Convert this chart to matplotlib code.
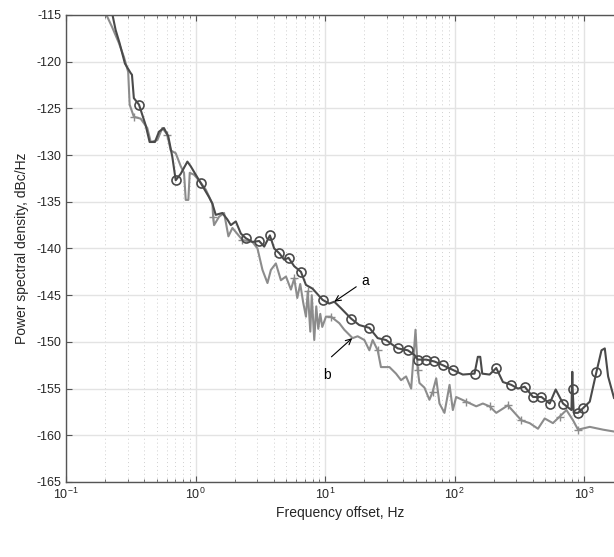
import matplotlib
matplotlib.use("Agg")
import matplotlib.pyplot as plt
from matplotlib.ticker import LogLocator, FixedLocator

plt.rcParams["font.family"] = ["Liberation Sans", "DejaVu Sans"]
plt.rcParams["axes.unicode_minus"] = False

# curve a (dark, circle markers)
a_freq = [0.227, 0.2415, 0.259, 0.285, 0.315, 0.323, 0.334, 0.366, 0.412, 0.442,
          0.486, 0.522, 0.570, 0.616, 0.662, 0.703, 0.769, 0.865, 0.918, 1.097,
          1.271, 1.349, 1.432, 1.611, 1.762, 1.872, 2.046, 2.237, 2.444, 2.750,
          3.097, 3.388, 3.750, 4.046, 4.424, 4.833, 5.221, 5.776, 6.512, 7.117,
          8.003, 9.57, 10.77, 11.78, 13.27, 15.86, 18.37, 21.97, 25.48, 29.58,
          32.33, 36.38, 43.47, 48.96, 51.9, 60.3, 69.9, 81.1, 96.9, 115.7,
          142.5, 151.1, 157.7, 163.4, 186.1, 209.7, 236.0, 274.0, 308.2, 347.4,
          403, 468, 542, 603, 687, 798, 810, 815, 831, 897,
          980, 1105, 1245, 1361, 1443, 1531, 1700]
a_db = [-114.8, -116.6, -118.0, -120.2, -121.2, -121.4, -123.9, -124.6, -126.8, -128.6,
        -128.6, -127.5, -127.1, -128.0, -130.2, -132.7, -132.0, -130.7, -131.2, -133.0,
        -134.5, -135.2, -136.4, -136.2, -136.9, -137.5, -137.1, -138.4, -138.9, -139.3,
        -139.2, -139.8, -138.6, -140.0, -140.5, -141.2, -141.0, -141.9, -142.5, -143.9,
        -144.3, -145.5, -145.9, -145.7, -146.4, -147.5, -148.2, -148.5, -149.6, -149.8,
        -150.2, -150.7, -150.9, -151.4, -151.9, -151.9, -152.1, -152.5, -153.0, -153.5,
        -153.4, -151.6, -151.6, -153.4, -153.5, -152.8, -154.3, -154.6, -155.0, -154.8,
        -155.9, -155.9, -156.6, -155.1, -156.6, -157.3, -153.2, -155.0, -157.6, -157.6,
        -157.1, -156.4, -153.2, -150.9, -150.7, -153.7, -156.0]
a_marks = [7, 15, 19, 28, 30, 32, 34, 36, 38, 41, 45, 47, 49, 51, 52, 54, 55, 56,
           57, 58, 60, 65, 67, 69, 70, 71, 72, 74, 77, 79, 80, 82]

# curve b (light, plus markers)
b_freq = [0.202, 0.227, 0.256, 0.280, 0.302, 0.310, 0.334, 0.377, 0.424, 0.451,
          0.507, 0.554, 0.605, 0.643, 0.703, 0.769, 0.815, 0.840, 0.880, 0.902,
          0.973, 1.064, 1.200, 1.349, 1.367, 1.390, 1.519, 1.661, 1.794, 1.926,
          2.302, 2.750, 3.007, 3.287, 3.592, 3.816, 4.170, 4.56, 4.99, 5.45,
          5.78, 6.10, 6.43, 6.78, 7.12, 7.35, 7.69, 7.89, 8.25, 8.55,
          8.86, 9.18, 9.51, 10.16, 11.11, 12.88, 14.07, 16.32, 17.84, 20.1,
          21.97, 23.3, 25.48, 27.0, 31.4, 35.3, 38.6, 42.2, 46.2, 49.9,
          51.9, 53.5, 58.5, 63.9, 67.5, 72.1, 76.4, 83.5, 91.4, 96.9,
          102.8, 123.0, 146.9, 165.2, 186.1, 209.7, 257.9, 290.6, 327.5, 379.6,
          440, 496, 574, 647, 730, 821, 897, 1105, 1400, 1700]
b_db = [-114.8, -116.3, -118.0, -119.5, -121.1, -124.6, -125.9, -126.1, -127.1, -128.6,
        -128.4, -127.1, -127.8, -129.5, -129.8, -131.2, -131.9, -134.8, -134.8, -131.9,
        -132.1, -132.7, -133.7, -135.2, -136.6, -137.5, -136.6, -136.2, -138.7, -137.8,
        -139.1, -139.3, -140.0, -142.3, -143.7, -142.3, -141.6, -143.4, -143.0, -144.4,
        -143.2, -145.3, -143.8, -145.8, -147.3, -144.6, -148.9, -145.0, -149.8, -146.2,
        -148.6, -147.0, -148.4, -147.3, -147.3, -148.0, -148.7, -149.6, -149.4, -149.8,
        -150.9, -149.8, -150.9, -152.7, -152.7, -153.4, -154.1, -153.7, -155.0, -148.7,
        -153.0, -154.4, -154.9, -156.2, -155.4, -153.9, -156.6, -157.6, -154.6, -157.3,
        -155.9, -156.4, -156.9, -156.6, -156.9, -157.6, -156.8, -157.6, -158.4, -158.7,
        -159.3, -158.2, -158.7, -158.0, -157.3, -158.4, -159.4, -159.1, -159.4, -159.6]
b_marks = [6, 12, 24, 30, 40, 45, 54, 62, 70, 74, 81, 84, 86, 88, 93, 96]

y_ticks = list(range(-165, -114, 5))

fig = plt.figure(figsize=(6.14, 5.57), dpi=100)
ax = fig.add_axes([0.1075, 0.1347, 0.8925, 0.8384])

ax.plot(b_freq, b_db, color="#8c8c8c", lw=1.5, marker="+", markevery=b_marks,
        ms=6, mew=1.0)
ax.plot(a_freq, a_db, color="#4a4a4a", lw=1.5, marker="o", markevery=a_marks,
        ms=6.5, mfc="none", mew=1.2)

ax.set_xscale("log")
ax.set_xlim(0.1, 1700)
ax.set_ylim(-165, -115)
ax.yaxis.set_major_locator(FixedLocator(y_ticks))
ax.xaxis.set_major_locator(LogLocator(base=10))
ax.xaxis.set_minor_locator(LogLocator(base=10, subs=range(2, 10)))

ax.grid(True, which="major", color="#e3e3e3", lw=1.0)
ax.grid(True, which="minor", axis="x", color="#cfcfcf", lw=0.7, ls=(0, (1, 3)))
ax.set_axisbelow(True)

for side in ["left", "bottom", "top"]:
    ax.spines[side].set_color("#555555")
    ax.spines[side].set_linewidth(1.0)
ax.spines["right"].set_visible(False)
ax.tick_params(which="both", direction="in", top=True, right=False,
               colors="#555555", labelcolor="#262626", labelsize=9)
ax.tick_params(which="major", length=4)
ax.tick_params(which="minor", length=2.5)

ax.set_xlabel("Frequency offset, Hz", fontsize=10, color="#262626", labelpad=3)
ax.set_ylabel("Power spectral density, dBc/Hz", fontsize=10, color="#262626",
              labelpad=5)

arrow = dict(arrowstyle="->", color="black", lw=0.8, shrinkA=0, shrinkB=0)
ax.annotate("", xy=(11.78, -145.7), xytext=(17.4, -144.1), arrowprops=arrow)
ax.text(20.5, -143.5, "a", fontsize=10, ha="center", va="center")
ax.annotate("", xy=(16.2, -149.6), xytext=(11.2, -151.6), arrowprops=arrow)
ax.text(10.4, -153.5, "b", fontsize=10, ha="center", va="center")

fig.savefig("out.png", dpi=100)
